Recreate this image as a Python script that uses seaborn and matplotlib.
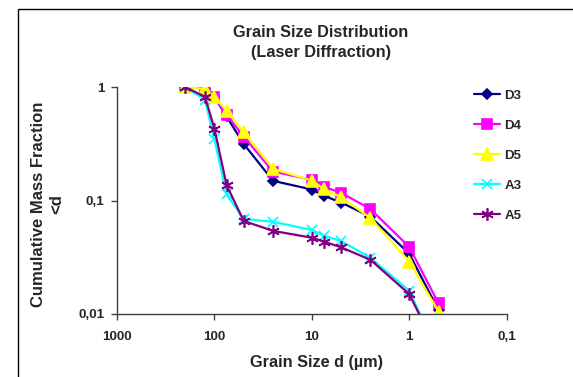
import numpy as np
import pandas as pd
import matplotlib
matplotlib.use('Agg')
import matplotlib.pyplot as plt
import matplotlib.patches as patches
import seaborn as sns

sns.set_style('white')
plt.rcParams['font.family'] = ['Liberation Sans', 'DejaVu Sans']
plt.rcParams['font.weight'] = 'bold'

# grain size (um) and cumulative mass fraction < d
grain_size = [200, 125, 100, 75, 50, 25, 10, 7.5, 5, 2.5, 1, 0.5]
d3 = [1.0, 0.97, 0.82, 0.55, 0.315, 0.149, 0.125, 0.110, 0.096, 0.072, 0.034, 0.0108]
d4 = [1.0, 0.98, 0.82, 0.57, 0.365, 0.180, 0.152, 0.132, 0.117, 0.084, 0.039, 0.0124]
d5 = [1.0, 0.96, 0.82, 0.615, 0.40, 0.190, 0.150, 0.126, 0.107, 0.070, 0.029, 0.0105]
a3 = [1.0, 0.77, 0.346, 0.113, 0.0687, 0.065, 0.055, 0.049, 0.044, 0.0313, 0.016, 0.0045]
a5 = [1.0, 0.82, 0.43, 0.137, 0.066, 0.054, 0.047, 0.0434, 0.0387, 0.030, 0.015, 0.0045]

series_names = ['D3', 'D4', 'D5', 'A3', 'A5']
series_vals = [d3, d4, d5, a3, a5]
colors = ['#000080', '#FF00FF', '#FFFF00', '#00FFFF', '#800080']
markers = ['D', 's', '^', 'x', (6, 2, 0)]
msizes = [5.5, 6.5, 8, 7.5, 9]

xticks = [1000, 100, 10, 1, 0.1]
xtick_labels = ['1000', '100', '10', '1', '0,1']
yticks = [0.01, 0.1, 1]
ytick_labels = ['0,01', '0,1', '1']

fig = plt.figure(figsize=(5.73, 3.77), dpi=100)
ax = fig.add_axes([117 / 573, 1 - 314 / 377, (506.6 - 117) / 573, (314 - 87) / 377])

for name, vals, c, m, ms in zip(series_names, series_vals, colors, markers, msizes):
    df = pd.DataFrame({'d': grain_size, 'frac': vals})
    sns.lineplot(data=df, x='d', y='frac', ax=ax, color=c, marker=m, markersize=ms,
                 markeredgecolor=c, markeredgewidth=1.2, linewidth=1.6, label=name,
                 sort=False)

ax.set_xscale('log')
ax.set_yscale('log')
ax.set_xlim(1000, 0.1)
ax.set_ylim(0.01, 1)
ax.set_xticks(xticks)
ax.set_xticklabels(xtick_labels, fontsize=9.7, fontweight='bold')
ax.set_yticks(yticks)
ax.set_yticklabels(ytick_labels, fontsize=9.7, fontweight='bold')
ax.minorticks_off()
ax.tick_params(axis='both', which='major', direction='out', length=4, width=1,
               color='#404040', bottom=True, left=True)
ax.tick_params(axis='x', pad=8)
ax.tick_params(axis='y', pad=5)
ax.set_xlabel('')
ax.set_ylabel('')

for s in ['top', 'right']:
    ax.spines[s].set_visible(False)
for s in ['left', 'bottom']:
    ax.spines[s].set_color('#404040')
    ax.spines[s].set_linewidth(1)

# legend to the right, inside the chart area
ax.legend(loc='upper left', bbox_to_anchor=(474 / 573, 1 - 89.5 / 377),
          bbox_transform=fig.transFigure, frameon=False,
          handlelength=2.0, handletextpad=0.3, labelspacing=1.35,
          borderpad=0, borderaxespad=0, prop={'weight': 'bold', 'size': 9.5})

fig.text(321 / 573, 1 - 42.2 / 377, 'Grain Size Distribution\n(Laser Diffraction)',
         ha='center', va='center', fontsize=11.7, fontweight='bold', linespacing=1.42)
fig.text(48 / 573, 1 - 204 / 377, 'Cumulative Mass Fraction\n<d', rotation=90,
         ha='center', va='center', fontsize=12, fontweight='bold', linespacing=1.25,
         multialignment='center')
fig.text(316 / 573, 1 - 363 / 377, 'Grain Size d (µm)', ha='center', va='center',
         fontsize=11.7, fontweight='bold')

# chart area border (cropped at right and bottom)
border = patches.Rectangle((17.5 / 573, -0.1), 1.2, 0.1 + (1 - 9 / 377),
                           transform=fig.transFigure, fill=False,
                           edgecolor='black', linewidth=1)
fig.patches.append(border)

fig.savefig('out.png', dpi=100)
